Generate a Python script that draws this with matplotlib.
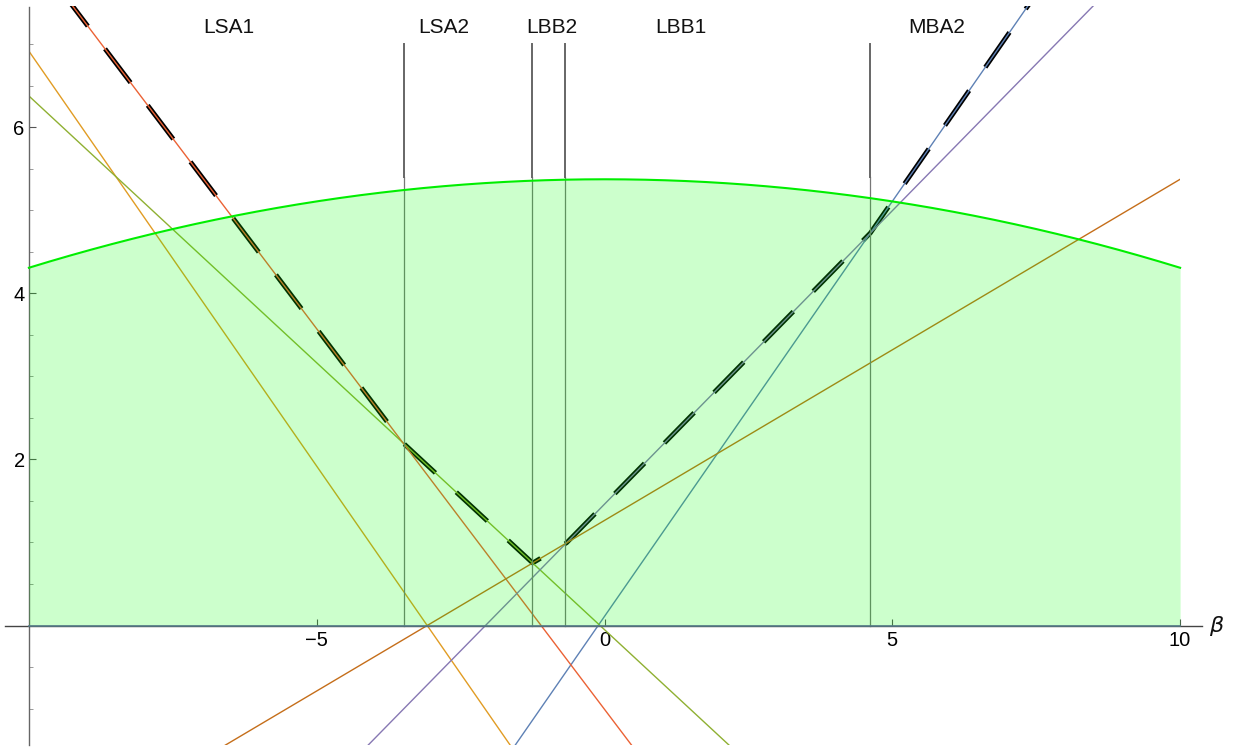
import numpy as np
import matplotlib
matplotlib.use("Agg")
import matplotlib.pyplot as plt
from matplotlib.patches import Rectangle

plt.rcParams['font.family'] = ['Liberation Sans', 'DejaVu Sans']
plt.rcParams['lines.scale_dashes'] = False

# Straight lines y = slope * beta + intercept
line_colors = ['#5E81B5', '#E19C24', '#8FB032', '#EB6235', '#8778B3', '#C56E1A']
slopes = [1.0, -1.0, -0.643, -0.917, 0.707, 0.411]
intercepts = [0.11, -3.08, -0.05, -1.01, 1.462, 1.266]

# Bounding curve: peak value and curvature
curve_peak = 5.376
curve_k = 0.01066

# Region boundaries and their labels
bound_x = [-3.485, -1.26, -0.69, 4.61]
region_names = ['LSA1', 'LSA2', 'LBB2', 'LBB1', 'MBA2']
region_label_x = [-6.52, -2.79, -0.92, 1.33, 5.77]

x_ticks = [-5, 0, 5, 10]
x_tick_labels = ['\u22125', '0', '5', '10']
y_ticks = [2, 4, 6]

XMIN, XMAX = -10.0, 10.0
YMIN, YMAX = -1.44, 7.46

fig = plt.figure(figsize=(12.36, 7.51), dpi=100)
ax = fig.add_axes([0, 0, 1, 1])
ax.set_xlim(-10.502, 10.971)
ax.set_ylim(-1.512, 7.536)
ax.patch.set_facecolor('white')

clip = Rectangle((XMIN, YMIN), XMAX - XMIN, YMAX - YMIN, transform=ax.transData)

beta = np.linspace(XMIN, XMAX, 2001)
vals = np.array([m * beta + b for m, b in zip(slopes, intercepts)])
envelope = vals.max(axis=0)

# Upper envelope, thick dashed black
env_line, = ax.plot(beta, envelope, color='black', lw=3.4, zorder=1,
                    solid_capstyle='butt', dash_capstyle='butt',
                    linestyle=(6, (30.5, 20.5)))
env_line.set_clip_path(clip)

# Individual lines
for c, v in zip(line_colors, vals):
    ln, = ax.plot(beta, v, color=c, lw=1.0, zorder=2)
    ln.set_clip_path(clip)

# Curve and shaded region underneath
curve = curve_peak - curve_k * beta ** 2
ax.fill_between(beta, 0, curve, color=(0, 1, 0), alpha=0.2, lw=0, zorder=3)
ax.plot(beta, curve, color='#00EE00', lw=1.5, zorder=5)

# Vertical boundaries
for xb in bound_x:
    ax.plot([xb, xb], [0, 5.40], color='#777777', lw=0.9, zorder=2)
    ax.plot([xb, xb], [5.40, 7.01], color='#666666', lw=1.4, zorder=5)

for name, lx in zip(region_names, region_label_x):
    ax.text(lx, 7.20, name, ha='center', va='center', fontsize=15, color='#111111')

# Axes
for s in ['top', 'right']:
    ax.spines[s].set_visible(False)
ax.spines['left'].set_position(('data', -10))
ax.spines['bottom'].set_position(('data', 0))
ax.spines['left'].set_bounds(-1.44, 7.45)
ax.spines['bottom'].set_bounds(-10.42, 10.38)
ax.spines['left'].set_color('#666666')
ax.spines['bottom'].set_color('#444444')
ax.spines['left'].set_linewidth(1.0)
ax.spines['bottom'].set_linewidth(1.0)
ax.plot([XMIN, XMAX], [0, 0], color='#557a88', lw=1.2, zorder=6)

ax.set_xticks(x_ticks)
ax.set_xticklabels(x_tick_labels)
ax.set_yticks(y_ticks)
ax.set_yticks([v for v in np.arange(-1.0, 7.01, 0.5) if v not in y_ticks and v != 0], minor=True)
ax.tick_params(axis='x', direction='in', length=4.8, width=0.8, color='#555555',
               labelsize=14.5, pad=4)
ax.tick_params(axis='y', which='major', direction='in', length=5, width=0.8,
               color='#555555', labelsize=14.5, pad=3)
ax.tick_params(axis='y', which='minor', direction='in', length=3, width=0.7,
               color='#999999')

ax.text(10.50, 0.0, '\u03b2', ha='left', va='center', fontsize=16,
        style='italic', family=['DejaVu Sans'], color='#111111')

fig.savefig('out.png', dpi=100)
